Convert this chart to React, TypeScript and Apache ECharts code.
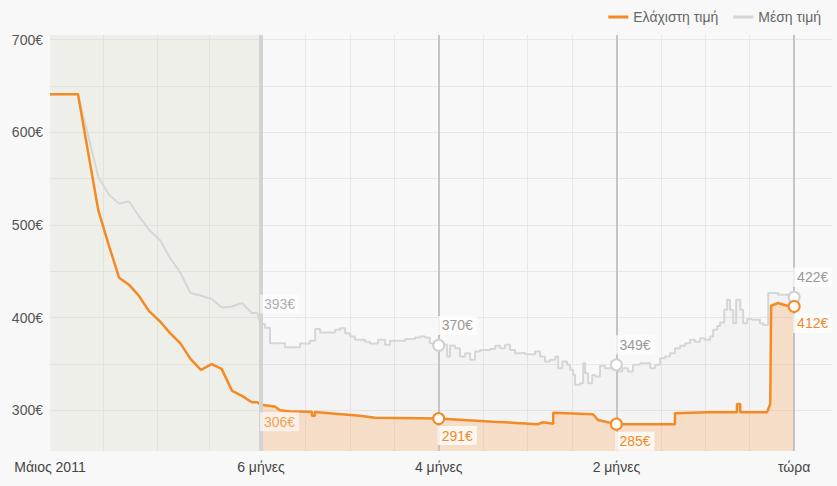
import React, { useEffect, useRef } from "react";
import * as echarts from "echarts";

// x values: days relative to "now" (0); left part (before 6 months) compressed view
const leftDays = [-255.4, -245.8, -238.8, -235.2, -231.7, -228.3, -224.9, -221.4, -217.6, -214.2, -210.7, -207.2, -203.6, -199.9, -196.5, -192.9, -189.5, -186.1, -184.3, -183.0];
const avgLeftValues = [641, 641, 551.5, 532.8, 523, 525.5, 509.3, 494.9, 483.4, 464.3, 448.8, 426.5, 423.6, 420, 410.9, 412, 415.7, 404.9, 404.9, 393];
const minLeftValues = [641, 641, 515.4, 478, 443, 435.5, 423.6, 407, 395.8, 383.2, 372.4, 355.5, 343.6, 349.7, 344.6, 320.9, 315.5, 308.6, 308.6, 306];

const avgRightDays = [-183.0, -181.6, -179.9, -174.7, -169.6, -166.2, -164.4, -162.7, -159.3, -157.6, -155.9, -154.1, -152.4, -150.7, -147.3, -145.6, -142.8, -140.4, -138.7, -133.5, -130.1, -128.4, -126.7, -125.0, -122, -120.8, -119.1, -118.1, -116.4, -114.7, -112.9, -111.2, -109.5, -107.8, -104.4, -102.6, -100.9, -99.2, -97.5, -95.8, -94.1, -92.3, -88.9, -87.2, -85.5, -83.8, -82.0, -81.0, -79.6, -77.9, -76.9, -75.9, -75.2, -73.5, -72.4, -71.7, -70.7, -69.3, -68.3, -66.6, -64.9, -61, -60.4, -59.0, -57.0, -55.3, -52.9, -49.4, -47.7, -46.0, -44.3, -42.6, -40.9, -39.1, -37.4, -35.7, -34.0, -32.3, -30.6, -28.8, -27.8, -26.4, -25.4, -24.0, -23.0, -22.0, -20.9, -19.9, -18.5, -17.5, -16.1, -14.4, -11.7, -10.6, -8.9, -5.5, 0];
const avgRightValues = [393, 389, 372.4, 368, 372, 375, 387.6, 384, 384, 386.8, 388.6, 383, 379.6, 376, 374, 372, 376, 370.6, 375, 377, 378.5, 379.6, 378.5, 372.4, 370, 371, 358, 370, 367, 358, 361.6, 354.4, 363.4, 365, 366, 369.5, 367, 370.6, 365, 361.6, 362, 360.5, 363.4, 358, 352.5, 354.4, 358, 345.4, 352.5, 349, 343.6, 338.2, 327.4, 329.2, 350.8, 340, 329, 338, 336.3, 348, 345.4, 349, 341.7, 345.4, 341.7, 349, 350.8, 345.4, 349, 356, 358, 361.6, 367, 369.5, 372.4, 376, 374, 377.8, 376, 379.6, 386.8, 391, 394.7, 408.4, 419.2, 408.4, 394, 419.2, 408.4, 394, 398.4, 397.6, 394, 392, 426.5, 424.6, 422];

const minRightDays = [-183, -178.2, -176.5, -172, -165.5, -165.5, -164.5, -164.5, -149, -143.8, -122, -103.3, -87.9, -86.2, -82.7, -82.7, -69, -67.3, -61, -40.9, -40.9, -29.9, -19.6, -19.6, -18.5, -18.5, -9.3, -8.2, -7.9, -5.5, -2.4, 0];
const minRightValues = [306, 304, 300, 298.5, 298.3, 294, 294, 298, 294, 292, 291, 287.7, 285, 287, 285.5, 297.4, 295.7, 289.5, 285, 285, 296.7, 297.8, 297.8, 306.8, 306.8, 297.8, 297.8, 306.8, 412.8, 415.7, 412.7, 412];

const sixMonthDay = -183;
const sixMonthAvg = 393;
const sixMonthMin = 306;
const markerDays = [-122, -61, 0];
const markerAvg = [370, 349, 422];
const markerMin = [291, 285, 412];

const xTickLabels: [number, string][] = [
  [-255.4, "Μάιος 2011"],
  [-183, "6 μήνες"],
  [-122, "4 μήνες"],
  [-61, "2 μήνες"],
  [0, "τώρα"],
];
const xGridValues = [-237.2, -218.7, -200.8, -183, -167.75, -152.5, -137.25, -122, -106.75, -91.5, -76.25, -61, -45.75, -30.5, -15.25, 0];
const yLabelValues = [300, 400, 500, 600, 700];
const yGridValues = [300, 350, 400, 450, 500, 550, 600, 650, 700];

const NAME_MIN = "Ελάχιστη τιμή";
const NAME_AVG = "Μέση τιμή";
const ORANGE = "#f48a24";
const GREY = "#d6d6d6";
const FONT = "'Liberation Sans', Arial, sans-serif";

const zip = (xs: number[], ys: number[]) => xs.map((x, i) => [x, ys[i]]);

export default function App() {
  const ref = useRef<HTMLDivElement>(null);
  useEffect(() => {
    document.body.style.margin = "0";
    const chart = echarts.init(ref.current!, null, { renderer: "svg" });
    const labelBox = (color: string, dy: number) => ({
      show: true,
      position: "inside",
      align: "left",
      verticalAlign: "middle",
      offset: [-1, dy],
      color,
      fontSize: 14,
      fontFamily: FONT,
      backgroundColor: "rgba(255,255,255,0.75)",
      padding: [3, 4, 2, 4],
      formatter: (p: any) => `${p.value[1]}€`,
    });
    chart.setOption({
      animation: false,
      backgroundColor: "#f8f8f8",
      textStyle: { fontFamily: FONT },
      grid: { left: 50, right: 5, top: 35, bottom: 35 },
      legend: {
        data: [NAME_MIN, NAME_AVG],
        right: 11,
        top: 5,
        icon: "rect",
        itemWidth: 20,
        itemHeight: 3,
        itemGap: 15,
        textStyle: { color: "#666", fontSize: 14, fontFamily: FONT },
      },
      xAxis: {
        type: "value",
        min: -255.4,
        max: 13,
        axisLine: { show: false },
        axisTick: { show: false, customValues: xGridValues },
        splitLine: { show: true, lineStyle: { color: "#e8e8e8", width: 1 } },
        axisLabel: {
          customValues: xTickLabels.map((d) => d[0]),
          formatter: (v: number) => {
            const f = xTickLabels.find((d) => Math.abs(d[0] - v) < 0.01);
            return f ? f[1] : "";
          },
          color: "#444",
          fontSize: 14,
          fontFamily: FONT,
          margin: 9,
          showMinLabel: true,
          showMaxLabel: true,
        },
      },
      yAxis: {
        type: "value",
        min: 256,
        max: 705,
        axisLine: { show: false },
        axisTick: { show: false, customValues: yGridValues },
        splitLine: { show: true, lineStyle: { color: "#e8e8e8", width: 1 } },
        axisLabel: {
          customValues: yLabelValues,
          formatter: (v: number) => `${v}€`,
          color: "#555",
          fontSize: 14,
          fontFamily: FONT,
          margin: 7,
        },
      },
      series: [
        {
          name: "bg",
          type: "line",
          data: [],
          z: 1,
          markArea: {
            silent: true,
            z: 1,
            itemStyle: { color: "rgba(212,212,188,0.25)" },
            data: [[{ xAxis: -255.4 }, { xAxis: sixMonthDay }]],
          },
        },
        {
          name: NAME_AVG,
          type: "line",
          data: zip(leftDays, avgLeftValues),
          symbol: "none",
          lineStyle: { color: GREY, width: 2 },
          itemStyle: { color: GREY },
          z: 2,
        },
        {
          name: NAME_AVG,
          type: "line",
          step: "end",
          data: zip(avgRightDays, avgRightValues),
          symbol: "none",
          lineStyle: { color: GREY, width: 2 },
          itemStyle: { color: GREY },
          areaStyle: { color: "rgba(0,0,0,0.03)", origin: "start" },
          z: 2,
        },
        {
          name: NAME_MIN,
          type: "line",
          data: zip(leftDays, minLeftValues),
          symbol: "none",
          lineStyle: { color: ORANGE, width: 2.5 },
          itemStyle: { color: ORANGE },
          z: 2,
        },
        {
          name: NAME_MIN,
          type: "line",
          data: zip(minRightDays, minRightValues),
          symbol: "none",
          lineStyle: { color: ORANGE, width: 2.5 },
          itemStyle: { color: ORANGE },
          areaStyle: { color: "rgba(250,165,85,0.4)", origin: "start" },
          z: 2,
        },
        {
          name: "marks",
          type: "line",
          data: [],
          z: 3,
          markLine: {
            silent: true,
            z: 3,
            symbol: "none",
            label: { show: false },
            data: [
              { xAxis: sixMonthDay, lineStyle: { color: "#d3d3d3", width: 4, type: "solid" } },
              ...markerDays.map((d) => ({ xAxis: d, lineStyle: { color: "#c4c4c4", width: 2, type: "solid" } })),
            ],
          },
        },
        {
          name: "avgPts",
          type: "scatter",
          z: 10,
          symbol: "circle",
          symbolSize: 11,
          itemStyle: { color: "#ffffff", borderColor: "#d0d0d0", borderWidth: 2, opacity: 1 },
          label: labelBox("#999", -20),
          data: zip(markerDays, markerAvg),
        },
        {
          name: "minPts",
          type: "scatter",
          z: 10,
          symbol: "circle",
          symbolSize: 11,
          itemStyle: { color: "#ffffff", borderColor: ORANGE, borderWidth: 2, opacity: 1 },
          label: labelBox("#f08a28", 17),
          data: zip(markerDays, markerMin),
        },
        {
          name: "sixLabels",
          type: "scatter",
          z: 10,
          symbol: "circle",
          symbolSize: 2,
          itemStyle: { color: "transparent" },
          data: [
            { value: [sixMonthDay, sixMonthAvg], label: labelBox("#999", -20) },
            { value: [sixMonthDay, sixMonthMin], label: labelBox("#f08a28", 17) },
          ],
        },
      ],
    });
    return () => chart.dispose();
  }, []);
  return <div ref={ref} style={{ width: 837, height: 486 }} />;
}
